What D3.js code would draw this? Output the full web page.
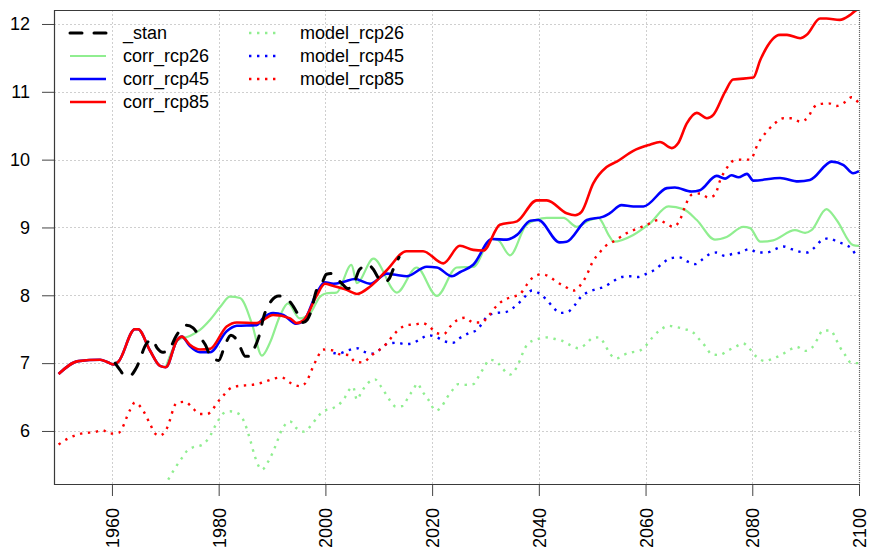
<!DOCTYPE html>
<html>
<head>
<meta charset="utf-8">
<script src="https://cdn.jsdelivr.net/npm/d3@7/dist/d3.min.js"></script>
<style>
  body { margin: 0; background: #fff; }
  svg { display: block; font-family: "Liberation Sans", Arial, Helvetica, sans-serif; }
</style>
</head>
<body>
<svg id="chart" width="870" height="555"></svg>
<script>
// Tick labels
const xTicks = [1960, 1980, 2000, 2020, 2040, 2060, 2080, 2100];
const yTicks = [6, 7, 8, 9, 10, 11, 12];

// Observed station series: [year, temperature]
const stan = [
  [1960.6,7.00],[1961.5,6.90],[1962.5,6.81],[1963.5,6.82],[1964.5,6.92],[1966.5,7.29],[1967.5,7.35],
  [1968.5,7.22],[1969.5,7.16],[1970.5,7.18],[1972.1,7.41],[1974.0,7.56],[1975.2,7.52],[1976.5,7.38],
  [1977.5,7.27],[1978.5,7.10],[1980.0,7.04],[1981.2,7.27],[1982.3,7.41],[1983.0,7.38],[1984.0,7.24],
  [1985.0,7.10],[1985.8,7.10],[1986.7,7.22],[1987.5,7.38],[1988.5,7.70],[1990.0,7.93],[1991.2,7.99],
  [1992.3,7.97],[1993.7,7.87],[1995.0,7.70],[1995.8,7.60],[1996.6,7.64],[1997.3,7.76],[1998.3,8.07],
  [1999.3,8.17],[2000.2,8.31],[2001.0,8.32],[2002.0,8.26],[2003.0,8.18],[2004.2,8.10],[2005.2,8.15],
  [2006.4,8.38],[2008.0,8.45],[2009.0,8.38],[2010.0,8.25],[2011.2,8.20],[2012.0,8.25],[2012.8,8.40],
  [2013.8,8.56]
];

// Bias-corrected scenarios
const corrRcp26 = [
  [1970.1,6.94],[1972.4,7.34],[1974.6,7.40],[1976.5,7.49],[1978.4,7.64],[1980.5,7.85],[1982.1,7.98],
  [1984.0,7.96],[1986.2,7.59],[1988.1,7.11],[1989.6,7.30],[1991.5,7.70],[1993.0,7.88],[1995.2,7.66],
  [1997.1,7.73],[1999.0,7.98],[2000.2,8.03],[2002.1,8.04],[2004.9,8.45],[2005.9,8.18],[2009.0,8.54],
  [2013.4,8.04],[2017.1,8.41],[2020.9,7.99],[2024.6,8.41],[2027.7,8.42],[2031.2,8.83],[2032.4,8.81],
  [2034.6,8.59],[2037.7,9.04],[2041.5,9.14],[2044.6,9.14],[2047.1,9.01],[2049.6,9.11],[2051.1,9.14],
  [2053.3,8.86],[2054.0,8.79],[2057.7,8.89],[2060.8,9.06],[2064.3,9.31],[2067.1,9.27],[2069.6,9.11],
  [2073.0,8.82],[2075.2,8.86],[2078.3,9.01],[2079.6,8.99],[2081.5,8.79],[2083.9,8.81],[2088.0,8.96],
  [2089.9,8.92],[2091.1,8.96],[2093.9,9.27],[2095.8,9.11],[2098.9,8.74],[2100.0,8.73]
];

const corrRcp45 = [
  [1950.0,6.84],[1953.7,7.03],[1957.8,7.05],[1959.3,7.01],[1960.3,6.98],[1961.2,7.02],[1964.3,7.50],
  [1964.9,7.50],[1967.1,7.19],[1969.0,6.96],[1970.1,6.94],[1972.2,7.34],[1973.1,7.39],[1974.6,7.25],
  [1976.5,7.16],[1978.4,7.16],[1981.5,7.47],[1983.4,7.55],[1987.1,7.56],[1988.4,7.67],[1990.2,7.74],
  [1992.1,7.71],[1994.6,7.58],[1995.9,7.62],[1998.4,8.04],[1999.9,8.19],[2001.5,8.17],[2003.5,8.20],
  [2005.5,8.24],[2008.4,8.17],[2011.5,8.32],[2013.4,8.30],[2015.2,8.28],[2019.0,8.42],[2020.9,8.41],
  [2023.7,8.28],[2025.2,8.34],[2027.7,8.45],[2031.2,8.83],[2034.0,8.82],[2035.9,8.89],[2038.4,9.10],
  [2039.9,9.11],[2043.9,8.78],[2045.2,8.79],[2049.0,9.11],[2052.1,9.16],[2053.3,9.21],[2055.5,9.33],
  [2057.7,9.31],[2059.6,9.31],[2064.0,9.58],[2065.5,9.59],[2068.6,9.53],[2070.2,9.55],[2073.3,9.76],
  [2074.9,9.72],[2076.1,9.77],[2077.4,9.74],[2079.0,9.79],[2080.2,9.69],[2085.2,9.73],[2088.6,9.68],
  [2090.8,9.70],[2094.9,9.97],[2097.1,9.92],[2098.9,9.80],[2100.0,9.83]
];

const corrRcp85 = [
  [1950.0,6.84],[1953.7,7.03],[1957.8,7.05],[1959.3,7.01],[1960.3,6.98],[1961.2,7.02],[1964.3,7.50],
  [1964.9,7.50],[1967.1,7.19],[1969.0,6.96],[1970.1,6.94],[1972.2,7.34],[1973.1,7.39],[1974.6,7.27],
  [1976.5,7.20],[1978.4,7.21],[1981.5,7.54],[1983.4,7.60],[1987.1,7.59],[1990.2,7.71],[1993.4,7.66],
  [1994.6,7.59],[1995.9,7.63],[1998.4,8.00],[1999.9,8.17],[2001.4,8.14],[2004.0,8.08],[2005.9,8.02],
  [2008.4,8.13],[2011.5,8.37],[2015.2,8.65],[2018.3,8.65],[2022.1,8.47],[2025.2,8.73],[2027.7,8.67],
  [2029.6,8.66],[2032.7,9.04],[2035.9,9.09],[2039.6,9.40],[2041.5,9.40],[2045.2,9.21],[2046.8,9.18],
  [2048.0,9.23],[2050.2,9.65],[2052.7,9.89],[2054.6,9.97],[2057.7,10.13],[2060.8,10.22],[2062.7,10.26],
  [2064.9,10.17],[2066.1,10.24],[2067.7,10.53],[2069.6,10.69],[2071.5,10.61],[2072.7,10.66],
  [2074.9,11.00],[2076.4,11.18],[2080.2,11.21],[2081.5,11.47],[2085.2,11.84],[2086.5,11.84],
  [2089.0,11.79],[2090.2,11.84],[2092.7,12.08],[2093.9,12.08],[2096.4,12.06],[2098.3,12.13],
  [2099.6,12.21],[2100.0,12.22]
];

// Raw model scenarios
const modelRcp26 = [
  [1969.0,5.08],[1970.9,5.33],[1971.8,5.45],[1973.1,5.60],[1974.0,5.70],[1975.2,5.76],[1976.8,5.79],
  [1978.1,5.89],[1979.6,6.11],[1980.9,6.26],[1982.1,6.29],[1984.0,6.24],[1984.9,6.11],[1985.9,5.87],
  [1986.8,5.62],[1988.1,5.43],[1989.3,5.55],[1990.6,5.77],[1991.8,6.01],[1993.4,6.14],[1994.6,6.04],
  [1995.9,5.99],[1997.1,6.06],[1998.4,6.19],[1999.6,6.29],[2001.2,6.33],[2002.4,6.38],[2003.7,6.50],
  [2004.5,6.61],[2005.2,6.65],[2005.9,6.46],[2006.8,6.58],[2007.9,6.70],[2009.3,6.76],[2010.2,6.68],
  [2011.2,6.56],[2012.1,6.45],[2013.2,6.36],[2014.6,6.37],[2015.5,6.50],[2016.5,6.61],[2017.2,6.70],
  [2018.2,6.58],[2019.3,6.46],[2020.7,6.30],[2021.8,6.36],[2022.7,6.48],[2023.7,6.59],[2024.9,6.69],
  [2026.2,6.68],[2027.7,6.69],[2028.7,6.80],[2029.6,6.92],[2030.8,7.05],[2032.1,7.02],[2033.3,6.91],
  [2034.6,6.83],[2035.7,6.92],[2036.5,7.05],[2037.1,7.17],[2038.0,7.29],[2039.6,7.35],[2041.3,7.38],
  [2042.8,7.36],[2044.3,7.33],[2045.8,7.27],[2047.4,7.22],[2048.8,7.28],[2050.1,7.37],[2051.3,7.38],
  [2052.4,7.27],[2053.3,7.14],[2054.6,7.07],[2055.8,7.12],[2057.4,7.16],[2058.8,7.18],[2060.2,7.27],
  [2061.4,7.39],[2062.8,7.49],[2064.3,7.55],[2065.8,7.53],[2067.4,7.50],[2068.8,7.46],[2070.2,7.34],
  [2071.3,7.24],[2072.4,7.13],[2073.9,7.12],[2075.3,7.18],[2076.8,7.24],[2078.3,7.29],[2079.4,7.22],
  [2080.7,7.10],[2082.4,7.03],[2083.9,7.07],[2085.4,7.12],[2086.9,7.19],[2088.3,7.24],[2089.9,7.18],
  [2091.1,7.22],[2092.2,7.35],[2093.2,7.48],[2094.7,7.48],[2095.7,7.35],[2096.4,7.24],[2097.4,7.12],
  [2098.6,7.00],[2100.0,7.00]
];

const modelRcp45 = [
  [2001.5,7.15],[2002.4,7.14],[2004.3,7.19],[2005.9,7.22],[2007.2,7.17],[2008.9,7.14],[2010.2,7.20],
  [2011.8,7.29],[2013.4,7.30],[2014.9,7.28],[2016.2,7.29],[2017.7,7.35],[2019.3,7.41],[2020.9,7.38],
  [2022.1,7.33],[2023.9,7.30],[2025.2,7.37],[2026.8,7.44],[2028.4,7.49],[2030.5,7.70],[2032.1,7.74],
  [2033.7,7.75],[2035.1,7.81],[2036.3,7.89],[2037.4,7.98],[2038.7,8.07],[2040.2,8.02],[2041.5,7.93],
  [2042.6,7.83],[2044.0,7.74],[2045.5,7.76],[2046.8,7.86],[2047.8,7.97],[2049.3,8.05],[2050.8,8.09],
  [2052.4,8.13],[2053.8,8.20],[2055.5,8.27],[2057.1,8.28],[2058.6,8.27],[2060.2,8.32],[2061.8,8.38],
  [2063.3,8.48],[2064.9,8.55],[2066.3,8.56],[2067.8,8.50],[2069.3,8.46],[2070.7,8.53],[2072.1,8.61],
  [2073.3,8.63],[2074.9,8.58],[2076.3,8.61],[2077.8,8.63],[2079.4,8.68],[2081.1,8.63],[2082.7,8.63],
  [2084.3,8.68],[2085.8,8.72],[2087.4,8.68],[2089.0,8.64],[2090.2,8.63],[2091.6,8.70],[2093.0,8.81],
  [2094.4,8.84],[2095.9,8.79],[2097.6,8.74],[2098.6,8.69],[2099.6,8.58],[2100.0,8.57]
];

const modelRcp85 = [
  [1950.0,5.80],[1951.8,5.89],[1954.9,5.97],[1956.5,5.98],[1958.3,6.01],[1959.5,5.96],[1961.2,5.97],
  [1963.4,6.31],[1964.3,6.42],[1965.6,6.33],[1967.1,6.11],[1968.1,5.96],[1969.0,5.93],[1970.3,6.04],
  [1972.1,6.41],[1973.7,6.43],[1975.2,6.33],[1976.5,6.25],[1977.8,6.25],[1980.2,6.46],[1982.7,6.65],
  [1987.1,6.69],[1991.8,6.79],[1993.4,6.71],[1995.2,6.66],[1996.2,6.70],[1998.0,7.00],[1999.6,7.20],
  [2001.2,7.19],[2002.7,7.13],[2004.3,7.12],[2005.6,7.02],[2007.1,7.01],[2008.4,7.10],[2010.2,7.20],
  [2011.5,7.29],[2012.7,7.41],[2014.0,7.51],[2015.2,7.56],[2016.8,7.57],[2018.2,7.59],[2019.6,7.53],
  [2020.9,7.44],[2022.2,7.43],[2023.4,7.54],[2024.6,7.63],[2026.2,7.67],[2027.7,7.60],[2029.3,7.60],
  [2030.5,7.69],[2032.4,7.87],[2033.7,7.94],[2035.2,7.98],[2036.5,8.02],[2037.7,8.15],[2038.7,8.25],
  [2040.5,8.31],[2042.1,8.27],[2043.3,8.20],[2044.9,8.13],[2046.5,8.07],[2047.7,8.14],[2048.8,8.27],
  [2050.2,8.51],[2051.3,8.62],[2052.4,8.72],[2053.7,8.78],[2054.9,8.84],[2056.3,8.91],[2057.7,8.96],
  [2059.3,9.01],[2060.8,9.06],[2062.4,9.11],[2064.0,9.05],[2065.2,9.01],[2066.5,9.12],[2067.4,9.31],
  [2068.6,9.48],[2070.2,9.50],[2071.8,9.44],[2073.0,9.48],[2074.0,9.70],[2075.1,9.86],[2076.4,9.98],
  [2078.0,10.00],[2079.6,10.00],[2081.1,10.24],[2083.0,10.44],[2084.3,10.54],[2085.8,10.61],
  [2087.4,10.61],[2089.0,10.56],[2090.5,10.63],[2091.4,10.76],[2092.7,10.82],[2094.3,10.83],
  [2095.8,10.79],[2097.4,10.85],[2098.6,10.92],[2100.0,10.83]
];

// ---- drawing ----
const svg = d3.select("#chart");
const plot = { left: 54, right: 859, top: 10, bottom: 484 };

const x = d3.scaleLinear().domain([1949.14, 2100]).range([plot.left, plot.right]);
const y = d3.scaleLinear().domain([5.218, 12.206]).range([plot.bottom, plot.top]);

// grid
const grid = svg.append("g").attr("stroke", "#cfcfcf").attr("stroke-width", 1)
  .attr("stroke-dasharray", "2,2");
grid.selectAll("line.gx").data(xTicks).join("line")
  .attr("x1", d => Math.round(x(d)) + 0.5).attr("x2", d => Math.round(x(d)) + 0.5)
  .attr("y1", plot.top).attr("y2", plot.bottom);
grid.selectAll("line.gy").data(yTicks).join("line")
  .attr("y1", d => Math.round(y(d)) + 0.5).attr("y2", d => Math.round(y(d)) + 0.5)
  .attr("x1", plot.left).attr("x2", plot.right);

// clip
svg.append("clipPath").attr("id", "plotClip").append("rect")
  .attr("x", plot.left).attr("y", plot.top)
  .attr("width", plot.right - plot.left).attr("height", plot.bottom - plot.top);

const line = d3.line().x(d => x(d[0])).y(d => y(d[1])).curve(d3.curveMonotoneX);

const series = [
  { name: "corr_rcp26", data: corrRcp26, color: "#90EE90", width: 2.2, dash: null },
  { name: "corr_rcp45", data: corrRcp45, color: "#0000FF", width: 2.6, dash: null },
  { name: "corr_rcp85", data: corrRcp85, color: "#FF0000", width: 2.6, dash: null },
  { name: "model_rcp26", data: modelRcp26, color: "#90EE90", width: 2.4, dash: "2.4,5.6" },
  { name: "model_rcp45", data: modelRcp45, color: "#0000FF", width: 2.4, dash: "2.4,5.6" },
  { name: "model_rcp85", data: modelRcp85, color: "#FF0000", width: 2.4, dash: "2.4,5.6" },
  { name: "_stan", data: stan, color: "#000000", width: 3, dash: "12,12", cap: "round" }
];

const lines = svg.append("g").attr("clip-path", "url(#plotClip)");
series.forEach(s => {
  lines.append("path")
    .attr("d", line(s.data))
    .attr("fill", "none")
    .attr("stroke", s.color)
    .attr("stroke-width", s.width)
    .attr("stroke-dasharray", s.dash)
    .attr("stroke-linecap", s.cap || "butt")
    .attr("stroke-linejoin", "round");
});

// axes
const xAxis = svg.append("g")
  .attr("transform", `translate(0,${plot.bottom})`)
  .call(d3.axisBottom(x).tickValues(xTicks).tickFormat(d3.format("d")).tickSize(12).tickSizeOuter(0));
xAxis.select(".domain").remove();
xAxis.selectAll(".tick line").attr("stroke", "#444");
xAxis.selectAll(".tick text")
  .attr("transform", "rotate(-90)")
  .attr("text-anchor", "end")
  .attr("x", -24).attr("y", 0).attr("dy", "0.36em")
  .attr("fill", "#000").style("font-size", "18px")
  .style("font-family", "'Liberation Sans', Arial, sans-serif");

const yAxis = svg.append("g")
  .attr("transform", `translate(${plot.left},0)`)
  .call(d3.axisLeft(y).tickValues(yTicks).tickFormat(d3.format("d")).tickSize(12).tickPadding(12).tickSizeOuter(0));
yAxis.select(".domain").remove();
yAxis.selectAll(".tick line").attr("stroke", "#444");
yAxis.selectAll(".tick text")
  .attr("fill", "#000").style("font-size", "18px")
  .style("font-family", "'Liberation Sans', Arial, sans-serif");

// frame: left, top and bottom solid, right edge dotted
const frame = svg.append("g").attr("fill", "none");
frame.append("path")
  .attr("d", `M${plot.right},${plot.top + 0.5}H${plot.left + 0.5}V${plot.bottom + 0.5}H${plot.right}`)
  .attr("stroke", "#3a3a3a").attr("stroke-width", 1.2);
frame.append("line")
  .attr("x1", plot.right + 0.5).attr("x2", plot.right + 0.5)
  .attr("y1", plot.top).attr("y2", plot.bottom)
  .attr("stroke", "#666").attr("stroke-width", 1.2).attr("stroke-dasharray", "1,1");

// legend
const legendRows = [
  { col: 0, row: 0, s: "_stan" },
  { col: 0, row: 1, s: "corr_rcp26" },
  { col: 0, row: 2, s: "corr_rcp45" },
  { col: 0, row: 3, s: "corr_rcp85" },
  { col: 1, row: 0, s: "model_rcp26" },
  { col: 1, row: 1, s: "model_rcp45" },
  { col: 1, row: 2, s: "model_rcp85" }
];
const legendCols = [
  { x1: 70, x2: 106, tx: 123 },
  { x1: 249, x2: 280, tx: 300 }
];
const legend = svg.append("g");
legendRows.forEach(r => {
  const s = series.find(d => d.name === r.s);
  const c = legendCols[r.col];
  const yy = 33 + r.row * 23;
  legend.append("line")
    .attr("x1", c.x1).attr("x2", c.x2).attr("y1", yy).attr("y2", yy)
    .attr("stroke", s.color).attr("stroke-width", s.width)
    .attr("stroke-dasharray", s.dash).attr("stroke-linecap", s.cap || "butt");
  legend.append("text")
    .attr("x", c.tx).attr("y", yy).attr("dy", "0.35em")
    .style("font-size", "18px").attr("fill", "#000")
    .text(s.name);
});
</script>
</body>
</html>
